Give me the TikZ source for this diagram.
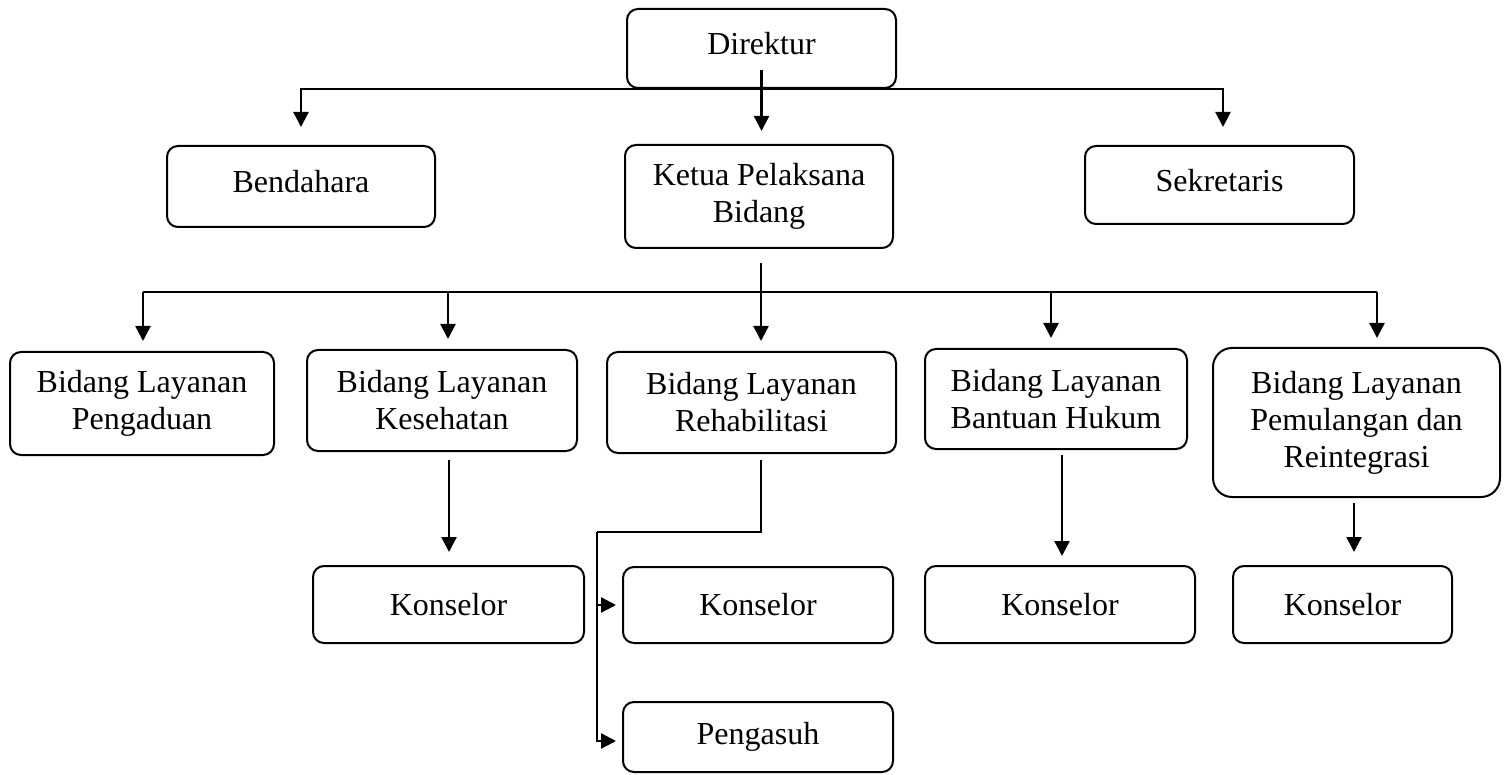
\documentclass[tikz,border=0pt]{standalone}
\usepackage{fontspec}
\setmainfont{Liberation Serif}
\usetikzlibrary{arrows.meta}
\begin{document}
\begin{tikzpicture}[x=1pt,y=-1pt,
  box/.style={draw,line width=2pt,rounded corners=11pt,inner sep=0pt,align=center,
    font=\fontsize{32}{37}\selectfont},
  conn/.style={line width=2.4pt},
  arr/.style={line width=2.4pt,-{Triangle[width=15pt,length=15pt]}}]
\useasboundingbox (0,0) rectangle (1507,775);
% top level
\node[box,minimum width=269pt,minimum height=79pt,text depth=10pt] (dir) at (761.5,48.5) {Direktur};
\node[box,minimum width=268pt,minimum height=81pt,text depth=10pt] (bend) at (301,186.5) {Bendahara};
\node[box,minimum width=268pt,minimum height=103pt] (ketua) at (759,196.5) {Ketua Pelaksana\\Bidang};
\node[box,minimum width=269pt,minimum height=78pt,text depth=10pt] (sek) at (1219.5,185) {Sekretaris};
% second level
\node[box,minimum width=264pt,minimum height=103pt] (p1) at (142,403.5) {Bidang Layanan\\Pengaduan};
\node[box,minimum width=270pt,minimum height=101pt] (p2) at (442,400.5) {Bidang Layanan\\Kesehatan};
\node[box,minimum width=289pt,minimum height=101pt] (p3) at (751.5,402.5) {Bidang Layanan\\Rehabilitasi};
\node[box,minimum width=262pt,minimum height=100pt] (p4) at (1056,399) {Bidang Layanan\\Bantuan Hukum};
\node[box,minimum width=287pt,minimum height=149pt,rounded corners=19pt] (p5) at (1356.5,422.5) {Bidang Layanan\\Pemulangan dan\\Reintegrasi};
% third level
\node[box,minimum width=271pt,minimum height=77pt] (k1) at (448.5,604.5) {Konselor};
\node[box,minimum width=270pt,minimum height=76pt] (k2) at (758,605) {Konselor};
\node[box,minimum width=270pt,minimum height=70pt] (peng) at (758,737) {Pengasuh};
\node[box,minimum width=270pt,minimum height=77pt] (k3) at (1060,604.5) {Konselor};
\node[box,minimum width=219pt,minimum height=77pt] (k4) at (1342.5,604.5) {Konselor};
% direktur connectors
\draw[arr,shorten >=18pt] (dir.south) -| (bend.north);
\draw[arr,shorten >=18pt] (dir.south) -| ([xshift=3.5pt]sek.north);
\draw[arr,shorten >=13pt] ([yshift=19pt]dir.south) -- (dir.south |- ketua.north);
% ketua bus
\coordinate (busL) at (143,292);
\coordinate (busR) at (1377,292);
\coordinate (t2) at (448,292);
\coordinate (t3) at (761,292);
\coordinate (t4) at (1051,292);
\draw[conn] (busL) -- (busR);
\draw[conn] ([yshift=-14pt]ketua.south -| t3) -- (t3);
\draw[arr,shorten >=10pt] (busL) -- (busL |- p1.north);
\draw[arr,shorten >=10pt] (t2) -- (t2 |- p2.north);
\draw[arr,shorten >=10pt] (t3) -- (t3 |- p3.north);
\draw[arr,shorten >=10pt] (t4) -- (t4 |- p4.north);
\draw[arr,shorten >=9pt] (busR) -- (busR |- p5.north);
% third level connectors
\coordinate (s2) at (449,460);
\draw[arr,shorten >=13pt] (s2) -- (s2 |- k1.north);
\coordinate (s3) at (761,460);
\coordinate (j3) at (597,532);
\draw[conn] (s3) |- (j3);
\draw[arr,shorten >=6pt] (j3) |- (k2.west);
\draw[arr,shorten >=6pt] (j3) |- ([yshift=-4pt]peng.west);
\coordinate (s4) at (1062,455);
\draw[arr,shorten >=9pt] (s4) -- (s4 |- k3.north);
\coordinate (s5) at (1354,503);
\draw[arr,shorten >=13pt] (s5) -- (s5 |- k4.north);
\end{tikzpicture}
\end{document}
